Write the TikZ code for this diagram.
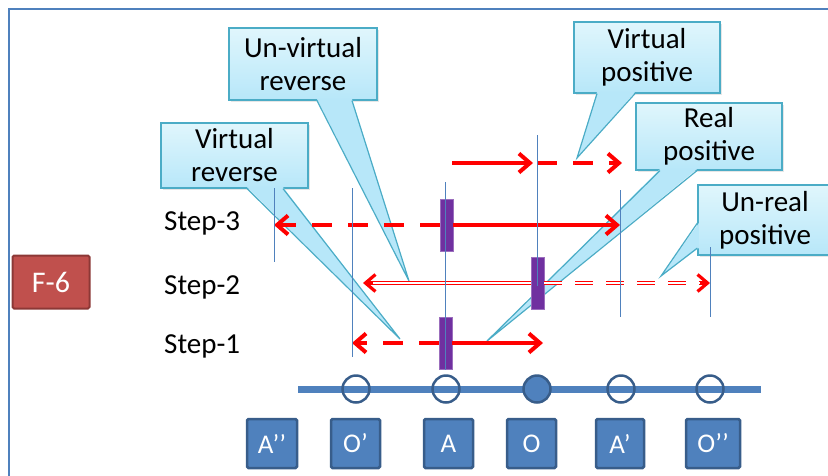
\documentclass[tikz,border=0pt]{standalone}
\usepackage{fontspec}
\setmainfont{Carlito}
\usetikzlibrary{positioning, calc, arrows.meta, shadows}

\begin{document}
\begin{tikzpicture}[x=1pt, y=-1pt, font=\fontsize{29}{33}\selectfont, align=center, inner sep=2pt,
        >={Straight Barb[length=11pt, width=19pt]},
        callout/.style={draw=calloutline, line width=1.2pt, top color=callouttop, bottom color=calloutbot,
            drop shadow={shadow xshift=2pt, shadow yshift=-2pt, opacity=0.2}},
        pointer/.style={draw=calloutline, line width=1.2pt},
        redline/.style={draw=stepred, line width=4pt},
        reddash/.style={redline, dash pattern=on 20pt off 16pt},
        reddouble/.style={draw=stepred, line width=1.4pt, double=white, double distance=2pt},
        redhead/.style={draw=stepred, line width=3.2pt, -{Straight Barb[length=10pt, width=17pt]}},
        markbar/.style={fill=markviolet, draw=markviolet!70!white, line width=0.6pt, minimum width=13, minimum height=52, inner sep=0pt},
        posbox/.style={draw=darkblue, fill=frameblue, text=white, line width=2.5pt, rounded corners=1.5pt, minimum height=49, font=\fontsize{27}{30}\selectfont},
        posdot/.style={circle, draw=darkblue, line width=2.5pt, minimum size=27, inner sep=0pt}]
    % Define colors
    \definecolor{frameblue}{RGB}{79,129,189}
    \definecolor{darkblue}{RGB}{56,93,138}
    \definecolor{stepred}{RGB}{255,0,0}
    \definecolor{markviolet}{RGB}{112,48,160}
    \definecolor{calloutline}{RGB}{75,172,198}
    \definecolor{callouttop}{RGB}{224,246,252}
    \definecolor{calloutbot}{RGB}{183,231,249}
    \definecolor{tagred}{RGB}{192,80,77}
    \definecolor{tagdark}{RGB}{140,56,54}

    \clip (0,0) rectangle (828,475);
    \draw[frameblue, line width=2pt] (9,9) rectangle (900,600);

    % Callouts
    \node[callout, minimum width=148, minimum height=72] (unvirtrev) at (303,64) {Un-virtual\\reverse};
    \node[callout, minimum width=147, minimum height=65] (virtrev) at (234.5,155.5) {Virtual\\reverse};
    \node[callout, minimum width=146, minimum height=71] (virtpos) at (647,57.5) {Virtual\\positive};
    \node[callout, minimum width=146, minimum height=67] (realpos) at (709,136.5) {Real\\positive};
    \node[callout, minimum width=134, minimum height=70] (unrealpos) at (765,220) {Un-real\\positive};

    \coordinate (unvirtrevtip) at (409,281);
    \coordinate (virtrevtip) at (400,339);
    \coordinate (virtpostip) at (577,158);
    \coordinate (realpostip) at (487,341);
    \coordinate (unrealpostip) at (661,276);

    \foreach \cname/\a/\b in {unvirtrev/14/49, virtrev/12.5/48.5, virtpos/-50/-12, realpos/-49/-12} {
        \fill[calloutbot] ([xshift=\a pt, yshift=1.5pt]\cname.south) -- (\cname tip) -- ([xshift=\b pt, yshift=1.5pt]\cname.south) -- cycle;
        \draw[pointer] ([xshift=\a pt]\cname.south) -- (\cname tip) -- ([xshift=\b pt]\cname.south);
    }
    \fill[calloutbot] ([xshift=1.5pt, yshift=-3pt]unrealpos.west) -- (unrealpostip) -- ([xshift=1.5pt, yshift=-28pt]unrealpos.west) -- cycle;
    \draw[pointer] ([yshift=-3pt]unrealpos.west) -- (unrealpostip) -- ([yshift=-28pt]unrealpos.west);

    % Guides
    \foreach \i/\x/\ya/\yb in {1/274/188/262, 2/352/188/357, 3/445/182/370, 4/537/135/286, 5/620/190/317, 6/710/247/317} {
        \coordinate (g\i) at (\x,\ya);
        \coordinate (g\i b) at (\x,\yb);
    }

    % Marks
    \node[markbar] (mark3) at (446.5,225) {};
    \node[markbar] (mark2) at (537.5,283) {};
    \node[markbar] (mark1) at (445.5,343) {};

    % Arrows
    \coordinate (s2tip) at (363,283);
    \coordinate (s1tip) at (543,343);
    \draw[reddash, ->] (mark3.west) -- (mark3.west -| g1);
    \draw[redline, ->] (mark3.east) -- (mark3.east -| g5);
    \draw[reddouble, shorten >=2pt] (mark2.west) -- (mark2.west -| s2tip);
    \draw[redhead] ([xshift=10pt]mark2.west -| s2tip) -- (mark2.west -| s2tip);
    \draw[reddouble, dash pattern=on 18pt off 13pt, shorten >=2pt] (mark2.east) -- (mark2.east -| g6);
    \draw[redhead] ([xshift=-10pt]mark2.east -| g6) -- (mark2.east -| g6);
    \draw[reddash, ->] (mark1.west) -- (mark1.west -| g2);
    \draw[redline, ->] (mark1.east) -- (mark1.east -| s1tip);

    \coordinate (top0) at (452,163);
    \coordinate (top1) at (533,163);
    \coordinate (top2) at (537,163);
    \coordinate (top3) at (622,163);
    \draw[redline, ->] (top0) -- (top1);
    \draw[reddash, ->] (top2) -- (top3);

    \foreach \i in {1,...,6}
        \draw[frameblue, line width=1pt] (g\i) -- (g\i b);

    % Axis
    \coordinate (axisstart) at (298,389);
    \coordinate (axisend) at (761,389);
    \draw[frameblue, line width=7pt] (axisstart) -- (axisend);
    \foreach \x/\name in {356/op, 446/a, 621/ap, 710/opp}
        \node[posdot] (dot\name) at (\x,389) {};
    \node[posdot, fill=frameblue] (doto) at (537,389) {};

    \foreach \x/\name/\lab/\w in {272/app/A’’/50, 355.5/op/O’/49, 448.5/a/A/49, 531.5/o/O/49, 620/ap/A’/48, 713/opp/O’’/54}
        \node[posbox, minimum width=\w] (box\name) at (\x,443.5) {\lab};

    % Labels
    \node[draw=tagdark, fill=tagred, text=white, line width=2pt, minimum width=77, minimum height=53, rounded corners=1.5pt, font=\fontsize{30}{33}\selectfont] (tag) at (51,282) {F-6};
    \foreach \s/\y in {3/223, 2/287, 1/346}
        \node[anchor=west, inner sep=0pt] (step\s) at (164,\y) {Step-\s};
\end{tikzpicture}
\end{document}
